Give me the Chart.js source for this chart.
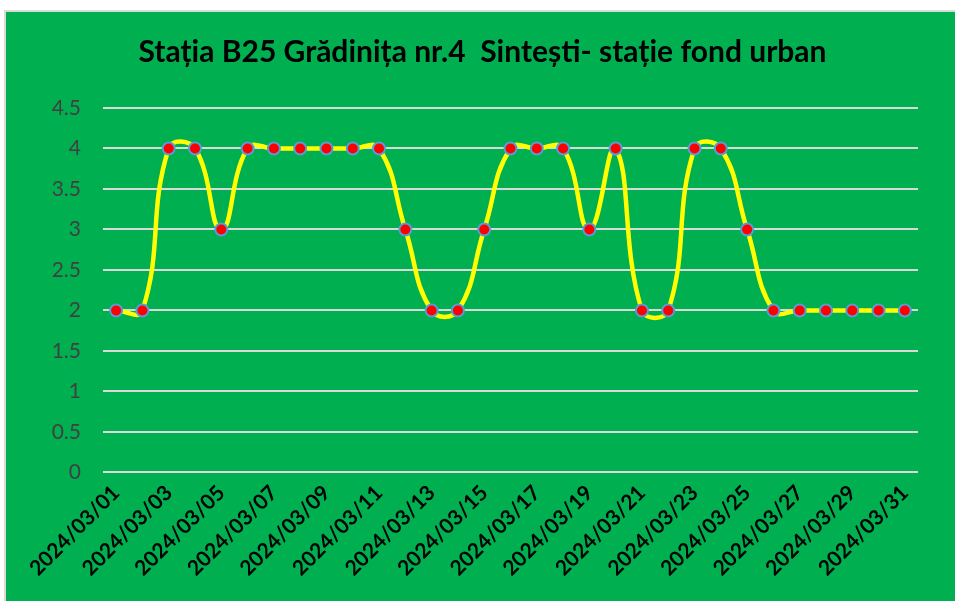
<!DOCTYPE html>
<html>
<head>
<meta charset="utf-8">
<script src="https://cdn.jsdelivr.net/npm/chart.js@4"></script>
<style>
  html, body { margin: 0; padding: 0; background: #ffffff; }
  #box {
    position: absolute; left: 4px; top: 10px; width: 951px; height: 591px;
    background: #00b050; border-left: 2px solid #d9d9d9; border-top: 2px solid #d9d9d9;
    box-sizing: border-box;
  }
  #wrap { position: absolute; left: 0; top: 0; width: 949px; height: 589px; }
</style>
</head>
<body>
<div id="box"><div id="wrap"><canvas id="chart"></canvas></div></div>
<script>
const days = [
  "2024/03/01","2024/03/02","2024/03/03","2024/03/04","2024/03/05","2024/03/06",
  "2024/03/07","2024/03/08","2024/03/09","2024/03/10","2024/03/11","2024/03/12",
  "2024/03/13","2024/03/14","2024/03/15","2024/03/16","2024/03/17","2024/03/18",
  "2024/03/19","2024/03/20","2024/03/21","2024/03/22","2024/03/23","2024/03/24",
  "2024/03/25","2024/03/26","2024/03/27","2024/03/28","2024/03/29","2024/03/30",
  "2024/03/31"
];
const values = [2, 2, 4, 4, 3, 4, 4, 4, 4, 4, 4, 3, 2, 2, 3, 4, 4, 4, 3, 4, 2, 2, 4, 4, 3, 2, 2, 2, 2, 2, 2];
const titleText = "Stația B25 Grădinița nr.4  Sintești- stație fond urban";

const ctx = document.getElementById("chart");

let chartData = {
  type: "line",
  data: {
    labels: days,
    datasets: [
      {
        label: "B25",
        data: values,
        borderColor: "#ffff00",
        borderWidth: 4.5,
        tension: 0.45,
        pointRadius: 6,
        pointBackgroundColor: "#ff0000",
        pointBorderColor: "#5b9bd5",
        pointBorderWidth: 2,
      },
    ],
  },
  options: {
    responsive: true,
    maintainAspectRatio: false,
    animation: false,
    layout: { padding: { left: 41, right: 37, top: 10, bottom: 12 } },
    plugins: {
      legend: { display: false },
      tooltip: { enabled: false },
      title: {
        display: true,
        text: titleText,
        color: "#000000",
        font: { family: "Lato", size: 30, weight: "bold" },
        padding: { top: 12, bottom: 38 },
      },
    },
    scales: {
      x: {
        offset: true,
        grid: { display: false, drawTicks: false },
        border: { display: false },
        ticks: {
          autoSkip: false,
          maxRotation: 45,
          minRotation: 45,
          padding: 8,
          color: "#000000",
          font: { family: "Lato", size: 21, weight: "bold" },
          callback: function (v, i) { return i % 2 === 0 ? days[i] : ""; },
        },
      },
      y: {
        min: 0,
        max: 4.5,
        afterFit: function (scale) { scale.width = 56; },
        grid: { color: "#d9d9d9", lineWidth: 2, drawTicks: false },
        border: { display: false },
        ticks: {
          stepSize: 0.5,
          padding: 22,
          color: "#404040",
          font: { family: "Lato", size: 21 },
          callback: function (v) { return String(v); },
        },
      },
    },
  },
};

new Chart(ctx, chartData);
</script>
</body>
</html>
